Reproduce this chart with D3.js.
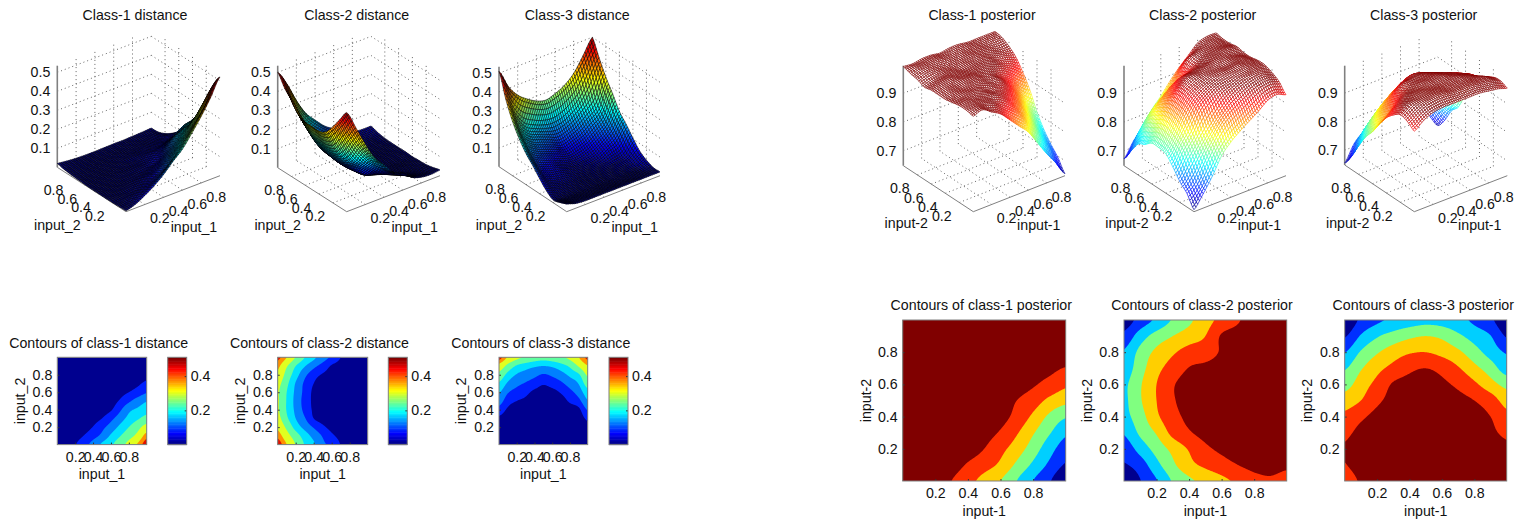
<!DOCTYPE html>
<html>
<head>
<meta charset="utf-8">
<script src="https://cdn.jsdelivr.net/npm/d3@7"></script>
<style>
  html, body { margin: 0; padding: 0; background: white; }
  svg { display: block; }
  text { font-family: "Liberation Sans", Arial, sans-serif; font-size: 14.2px; fill: #111; }
</style>
</head>
<body>
<div id="chart"></div>
<script>
// Values on an 11x11 grid (input_1 and input_2 = 0, 0.1 ... 1).
// Each row is one input_2 value, from 0 upwards; each column one input_1 value.
const distance1 = [
  [.005,.02,.047,.08,.12,.17,.215,.28,.35,.43,.52],
  [.003,.012,.03,.052,.08,.115,.17,.225,.285,.35,.455],
  [.002,.008,.015,.03,.052,.085,.125,.175,.23,.29,.36],
  [.002,.005,.01,.018,.032,.05,.085,.13,.18,.22,.26],
  [.002,.004,.006,.01,.018,.028,.045,.09,.145,.172,.2],
  [.002,.004,.005,.007,.012,.02,.03,.055,.09,.125,.155],
  [.003,.004,.005,.006,.008,.012,.02,.035,.05,.07,.095],
  [.005,.004,.005,.005,.007,.01,.015,.02,.03,.042,.06],
  [.008,.006,.005,.005,.006,.008,.01,.013,.018,.025,.035],
  [.012,.009,.007,.006,.006,.007,.008,.01,.012,.016,.02],
  [.02,.014,.01,.008,.008,.009,.01,.01,.012,.014,.017]
];
const distance2 = [
  [.52,.42,.315,.225,.17,.11,.09,.048,.03,.025,.03],
  [.46,.36,.27,.195,.14,.095,.06,.035,.02,.015,.02],
  [.40,.30,.20,.14,.095,.06,.035,.02,.012,.01,.012],
  [.35,.245,.16,.105,.05,.03,.02,.012,.01,.008,.01],
  [.33,.225,.145,.085,.042,.02,.012,.01,.006,.006,.008],
  [.33,.225,.14,.08,.04,.02,.012,.01,.008,.008,.01],
  [.33,.23,.145,.085,.04,.02,.012,.01,.008,.008,.01],
  [.35,.25,.155,.09,.05,.025,.015,.01,.008,.008,.01],
  [.40,.285,.19,.115,.07,.045,.03,.015,.01,.01,.012],
  [.44,.33,.23,.165,.115,.08,.045,.03,.02,.015,.018],
  [.50,.42,.315,.23,.175,.125,.09,.05,.035,.03,.03]
];
const distance3 = [
  [.04,.025,.02,.02,.02,.02,.02,.02,.02,.02,.02],
  [.025,.015,.012,.01,.01,.01,.01,.01,.012,.014,.02],
  [.015,.008,.005,.004,.004,.004,.004,.006,.008,.012,.035],
  [.04,.02,.012,.008,.007,.006,.007,.01,.014,.024,.06],
  [.08,.042,.025,.018,.012,.01,.012,.016,.025,.04,.105],
  [.125,.07,.05,.04,.025,.018,.02,.03,.058,.085,.155],
  [.165,.105,.08,.062,.04,.03,.035,.055,.085,.125,.20],
  [.22,.15,.115,.095,.075,.055,.07,.09,.125,.165,.27],
  [.29,.205,.155,.135,.115,.095,.11,.135,.175,.22,.335],
  [.385,.29,.22,.19,.17,.16,.17,.2,.245,.33,.415],
  [.51,.41,.345,.305,.275,.26,.275,.30,.345,.42,.50]
];
const posterior1 = [
  [.98,.99,.97,.95,.917,.883,.85,.80,.75,.705,.655],
  [.985,.99,.98,.97,.945,.92,.89,.84,.79,.74,.695],
  [.985,.99,.985,.975,.97,.95,.915,.875,.825,.77,.725],
  [.98,.985,.99,.985,.97,.965,.945,.905,.855,.805,.76],
  [.975,.985,.985,.99,.985,.97,.965,.935,.89,.84,.805],
  [.975,.985,.985,.99,.99,.98,.97,.95,.925,.888,.865],
  [.975,.985,.99,.985,.985,.985,.98,.97,.955,.935,.91],
  [.97,.98,.985,.985,.98,.985,.985,.98,.965,.96,.948],
  [.98,.99,.99,.985,.985,.985,.99,.985,.98,.97,.97],
  [.985,.995,.995,.995,.99,.99,.99,.99,.985,.985,.985],
  [.993,.99,.995,.995,.99,.995,.995,.99,.99,.99,.99]
];
const posterior2 = [
  [.655,.698,.747,.805,.84,.866,.888,.91,.935,.943,.93],
  [.695,.725,.785,.84,.885,.91,.93,.95,.965,.97,.96],
  [.72,.77,.82,.865,.905,.94,.96,.975,.985,.985,.975],
  [.755,.81,.855,.915,.945,.965,.975,.985,.99,.99,.985],
  [.785,.83,.89,.935,.96,.975,.985,.99,.995,.99,.985],
  [.79,.845,.90,.945,.965,.98,.985,.985,.99,.99,.98],
  [.79,.845,.90,.945,.97,.975,.985,.99,.99,.985,.98],
  [.77,.83,.885,.92,.952,.96,.97,.985,.99,.99,.985],
  [.755,.815,.862,.893,.92,.93,.955,.975,.985,.985,.98],
  [.715,.775,.82,.85,.875,.90,.955,.97,.98,.985,.98],
  [.672,.72,.76,.805,.84,.88,.915,.945,.975,.985,.985]
];
const posterior3 = [
  [.93,.955,.97,.975,.975,.975,.975,.975,.97,.965,.955],
  [.948,.97,.985,.99,.99,.985,.985,.985,.98,.975,.965],
  [.955,.98,.985,.99,.99,.985,.985,.985,.98,.975,.96],
  [.938,.965,.98,.985,.985,.985,.985,.985,.975,.96,.94],
  [.912,.94,.965,.975,.985,.985,.985,.975,.965,.95,.915],
  [.875,.90,.94,.965,.975,.98,.975,.965,.95,.925,.88],
  [.83,.875,.915,.955,.965,.97,.96,.94,.91,.87,.835],
  [.795,.845,.885,.915,.94,.95,.935,.905,.865,.825,.775],
  [.748,.805,.845,.875,.895,.90,.885,.86,.82,.78,.745],
  [.695,.755,.795,.82,.84,.85,.84,.81,.78,.752,.695],
  [.655,.71,.74,.76,.775,.785,.78,.765,.74,.71,.66]
];

// Contour levels and the flat colour of each band
const distanceLevels = [.05, .1, .16, .23, .32, .42, .48];
const distanceBands = ["#00008f", "#0020ff", "#0080ff", "#00e0ff", "#60ffa0", "#e0ff20", "#ff9000", "#e01000"];
const posteriorLevels = [.70, .75, .80, .85, .90, .95];
const posteriorBands = ["#00008f", "#0030ff", "#00cfff", "#80ff80", "#ffcf00", "#ff3000", "#800000"];

const axisTicks = [.2, .4, .6, .8];
const distanceZTicks = [.1, .2, .3, .4, .5];
const posteriorZTicks = [.7, .8, .9];
const colorbarTicks = [.2, .4];
const colorbarDomain = [0, .51];

const width = 1527, height = 519;
const svg = d3.select("#chart").append("svg").attr("width", width).attr("height", height);

const fmt = d3.format(".1f");
const axisGrey = "#808080";

// jet colormap, t in 0..1
function jet(t) {
  const c = v => Math.round(255 * Math.max(0, Math.min(1, 1.5 - Math.abs(4 * t - v))));
  return `rgb(${c(3)},${c(2)},${c(1)})`;
}

// Display mesh: the read grid stays as it is, a Catmull-Rom curve through its
// nodes only makes the drawn mesh finer, like a line curve does on a line chart.
function cr(p0, p1, p2, p3, t) {
  return 0.5 * (2 * p1 + (p2 - p0) * t + (2 * p0 - 5 * p1 + 4 * p2 - p3) * t * t + (3 * p1 - p0 - 3 * p2 + p3) * t * t * t);
}
function sampleLine(a, u) {
  const n = a.length - 1;
  const i = Math.min(n - 1, Math.floor(u * n));
  const t = u * n - i;
  return cr(a[Math.max(0, i - 1)], a[i], a[i + 1], a[Math.min(n, i + 2)], t);
}
function fineGrid(grid, m) {
  const out = [];
  for (let r = 0; r < m; r++) {
    const v = r / (m - 1);
    const row = [];
    for (let c = 0; c < m; c++) {
      const u = c / (m - 1);
      row.push(sampleLine(grid.map(gr => sampleLine(gr, u)), v));
    }
    out.push(row);
  }
  return out;
}

// ---- 3D panels ----
function surfacePanel(cfg) {
  const g = svg.append("g");
  const { left, front, right } = cfg;

  // axis vectors of the oblique box, as scales
  const xDx = d3.scaleLinear().domain([0, 1]).range([0, right[0] - front[0]]);
  const xDy = d3.scaleLinear().domain([0, 1]).range([0, right[1] - front[1]]);
  const yDx = d3.scaleLinear().domain([0, 1]).range([0, left[0] - front[0]]);
  const yDy = d3.scaleLinear().domain([0, 1]).range([0, left[1] - front[1]]);
  const zPx = d3.scaleLinear().domain(cfg.zDomain).range([0, cfg.zTop - left[1]]);
  const zFloor = cfg.zDomain[0], zCeil = cfg.zDomain[1];

  const project = (x, y, z) => [
    front[0] + xDx(x) + yDx(y),
    front[1] + xDy(x) + yDy(y) + zPx(z)
  ];
  const line3 = (a, b, stroke, extra) => {
    const p = project(...a), q = project(...b);
    const l = g.append("line")
      .attr("x1", p[0]).attr("y1", p[1]).attr("x2", q[0]).attr("y2", q[1])
      .attr("stroke", stroke).attr("stroke-width", extra.w || 1);
    if (extra.dash) l.attr("stroke-dasharray", extra.dash);
  };
  const dotted = { dash: "1,3", w: 0.9 };
  const dotColor = "#555";

  // dotted grid: back walls and floor
  cfg.zTicks.forEach(z => {
    line3([0, 1, z], [1, 1, z], dotColor, dotted);
    line3([1, 1, z], [1, 0, z], dotColor, dotted);
  });
  axisTicks.forEach(t => {
    line3([t, 1, zFloor], [t, 1, zCeil], dotColor, dotted);
    line3([1, t, zFloor], [1, t, zCeil], dotColor, dotted);
    line3([t, 0, zFloor], [t, 1, zFloor], dotColor, dotted);
    line3([0, t, zFloor], [1, t, zFloor], dotColor, dotted);
  });

  // solid axes
  line3([0, 1, zFloor], [0, 1, zCeil], axisGrey, { w: 1.6 });
  line3([0, 1, zFloor], [0, 0, zFloor], axisGrey, { w: 1 });
  line3([0, 0, zFloor], [1, 0, zFloor], axisGrey, { w: 1 });

  // surface, far cells first so that the near ones cover them
  const m = 51;
  const mesh = fineGrid(cfg.values, m);
  const flat = cfg.values.flat();
  // the plateau of the posterior meshes is at the dark end of jet in the picture
  const color = d3.scaleLinear().domain([d3.min(flat), cfg.colorTop || d3.max(flat)]).range([0, 1]).clamp(true);
  const cells = [];
  for (let r = m - 2; r >= 0; r--) {
    for (let c = m - 2; c >= 0; c--) cells.push([r, c]);
  }
  g.append("g").selectAll("path")
    .data(cells)
    .join("path")
    .attr("d", ([r, c]) => {
      const pts = [[c, r], [c + 1, r], [c + 1, r + 1], [c, r + 1]]
        .map(([i, j]) => project(i / (m - 1), j / (m - 1), mesh[j][i]));
      return d3.line()(pts) + "Z";
    })
    .each(function ([r, c]) {
      const avg = (mesh[r][c] + mesh[r][c + 1] + mesh[r + 1][c] + mesh[r + 1][c + 1]) / 4;
      const col = jet(color(avg));
      const el = d3.select(this);
      if (cfg.wire) {
        el.attr("fill", "white").attr("stroke", col).attr("stroke-width", 0.65);
      } else {
        el.attr("fill", col).attr("stroke", "black").attr("stroke-width", 0.55);
      }
    });

  // tick labels and axis labels
  const addText = (x, y, s, anchor) => g.append("text")
    .attr("x", x).attr("y", y).attr("dy", ".35em")
    .attr("text-anchor", anchor || "middle").text(s);

  cfg.zTicks.forEach(z => {
    const p = project(0, 1, z);
    addText(p[0] - 7, p[1], fmt(z), "end");
  });
  axisTicks.forEach(t => {
    const px = project(t, 0, zFloor);
    addText(px[0] + 15, px[1] + 14, fmt(t));
    const py = project(0, t, zFloor);
    addText(py[0] - 17.5, py[1] + 13.5, fmt(t));
  });
  addText(left[0] + cfg.yLabelDx, cfg.labelY, cfg.yLabel);
  addText(front[0] + cfg.xLabelDx, cfg.labelY + 2, cfg.xLabel);
  addText(cfg.titleX, 15, cfg.title);
}

// ---- contour panels ----
let clipCount = 0;
function contourPanel(cfg) {
  const g = svg.append("g");
  const [x0, x1] = cfg.xRange, [y1, y0] = cfg.yRange; // y0 = bottom
  const x = d3.scaleLinear().domain([0, 1]).range([x0, x1]);
  const y = d3.scaleLinear().domain([0, 1]).range([y0, y1]);

  const clipId = "clip" + (clipCount++);
  g.append("clipPath").attr("id", clipId).append("rect")
    .attr("x", x0).attr("y", y1).attr("width", x1 - x0).attr("height", y0 - y1);

  const plot = g.append("g").attr("clip-path", `url(#${clipId})`);
  plot.append("rect")
    .attr("x", x0).attr("y", y1).attr("width", x1 - x0).attr("height", y0 - y1)
    .attr("fill", cfg.bands[0]);

  const m = 201;
  const values = fineGrid(cfg.values, m).flat();
  const contours = d3.contours().size([m, m]).thresholds(cfg.levels)(values);
  const toScreen = d3.geoTransform({
    point(px, py) {
      this.stream.point(x((px - 0.5) / (m - 1)), y((py - 0.5) / (m - 1)));
    }
  });
  const path = d3.geoPath(toScreen);
  plot.selectAll("path.band")
    .data(contours)
    .join("path")
    .attr("class", "band")
    .attr("d", path)
    .attr("fill", (d, i) => cfg.bands[i + 1]);

  // axes: short inward ticks, grey box
  const xAxis = d3.axisBottom(x).tickValues(axisTicks).tickFormat(fmt).tickSize(-2).tickSizeOuter(0).tickPadding(cfg.padX);
  const yAxis = d3.axisLeft(y).tickValues(axisTicks).tickFormat(fmt).tickSize(-2).tickSizeOuter(0).tickPadding(cfg.padY);
  const ax = g.append("g").attr("transform", `translate(0,${y0})`).call(xAxis);
  const ay = g.append("g").attr("transform", `translate(${x0},0)`).call(yAxis);
  [ax, ay].forEach(a => {
    a.attr("font-family", null).attr("font-size", null);
    a.selectAll(".tick line").attr("stroke", "#333");
    a.select(".domain").remove();
  });
  g.append("rect")
    .attr("x", x0).attr("y", y1).attr("width", x1 - x0).attr("height", y0 - y1)
    .attr("fill", "none").attr("stroke", axisGrey);

  g.append("text").attr("x", cfg.titleX).attr("y", cfg.titleY).attr("dy", ".35em")
    .attr("text-anchor", "middle").text(cfg.title);
  g.append("text").attr("x", (x0 + x1) / 2).attr("y", cfg.xLabelY).attr("dy", ".35em")
    .attr("text-anchor", "middle").text(cfg.xLabel);
  g.append("text")
    .attr("transform", `translate(${cfg.yLabelX},${(y0 + y1) / 2}) rotate(-90)`)
    .attr("dy", ".35em").attr("text-anchor", "middle").text(cfg.yLabel);

  if (cfg.colorbar) {
    const [cx0, cx1] = cfg.colorbar;
    const c = d3.scaleLinear().domain(colorbarDomain).range([y0, y1]);
    const steps = d3.range(64);
    const stepH = (y0 - y1) / 64;
    g.append("g").selectAll("rect").data(steps).join("rect")
      .attr("x", cx0).attr("width", cx1 - cx0)
      .attr("y", d => y0 - (d + 1) * stepH)
      .attr("height", stepH + 0.5)
      .attr("fill", d => jet(d / 63));
    const cAxis = d3.axisRight(c).tickValues(colorbarTicks).tickFormat(fmt).tickSize(-2).tickSizeOuter(0).tickPadding(4);
    const ac = g.append("g").attr("transform", `translate(${cx1},0)`).call(cAxis);
    ac.attr("font-family", null).attr("font-size", null);
    ac.select(".domain").remove();
    ac.selectAll(".tick line").attr("stroke", "#333");
    g.append("rect").attr("x", cx0).attr("y", y1).attr("width", cx1 - cx0).attr("height", y0 - y1)
      .attr("fill", "none").attr("stroke", axisGrey);
  }
}

// ---- layout ----
const distanceCommon = {
  zDomain: [0, .535], zTicks: distanceZTicks, wire: false,
  xLabel: "input_1", yLabel: "input_2", xLabelDx: 68, yLabelDx: 0, labelY: 224.7
};
const posteriorCommon = {
  zDomain: [.648, .996], zTicks: posteriorZTicks, wire: true, colorTop: .97,
  xLabel: "input-1", yLabel: "input-2", xLabelDx: 65.5, yLabelDx: 3, labelY: 223.5
};

surfacePanel({ ...distanceCommon, title: "Class-1 distance", titleX: 135, values: distance1,
  left: [57.3, 167.3], front: [126, 211.7], right: [220, 175.7], zTop: 65.7 });
surfacePanel({ ...distanceCommon, title: "Class-2 distance", titleX: 356.7, values: distance2,
  left: [277.7, 167.7], front: [346.7, 211.7], right: [440, 175.7], zTop: 65.7 });
surfacePanel({ ...distanceCommon, title: "Class-3 distance", titleX: 577.3, values: distance3,
  left: [499, 166.7], front: [566.7, 211.7], right: [660, 175.7], zTop: 66.7 });

surfacePanel({ ...posteriorCommon, title: "Class-1 posterior", titleX: 982, values: posterior1,
  left: [903.3, 165.7], front: [973.3, 211.7], right: [1065, 175.7], zTop: 65.7 });
surfacePanel({ ...posteriorCommon, title: "Class-2 posterior", titleX: 1202.7, values: posterior2,
  left: [1124, 165.7], front: [1194, 211.7], right: [1286, 175.7], zTop: 65.7 });
surfacePanel({ ...posteriorCommon, title: "Class-3 posterior", titleX: 1423.7, values: posterior3,
  left: [1344.7, 165], front: [1414.3, 211.7], right: [1507.3, 175.7], zTop: 65.7 });

const distanceContour = {
  levels: distanceLevels, bands: distanceBands, yRange: [357.3, 444.6], padX: 7, padY: 5,
  titleY: 342.7, xLabelY: 474, xLabel: "input_1", yLabel: "input_2"
};
const posteriorContour = {
  levels: posteriorLevels, bands: posteriorBands, yRange: [320, 481], padX: 7, padY: 5,
  titleY: 305, xLabelY: 510.7, xLabel: "input-1", yLabel: "input-2"
};

contourPanel({ ...distanceContour, title: "Contours of class-1 distance", titleX: 98.7, values: distance1,
  xRange: [57.3, 146.7], yLabelX: 20, colorbar: [167.7, 186.7] });
contourPanel({ ...distanceContour, title: "Contours of class-2 distance", titleX: 319.5, values: distance2,
  xRange: [277.7, 367.7], yLabelX: 240, colorbar: [388.3, 407.3] });
contourPanel({ ...distanceContour, title: "Contours of class-3 distance", titleX: 540.8, values: distance3,
  xRange: [499, 587.7], yLabelX: 461.5, colorbar: [609, 628] });

contourPanel({ ...posteriorContour, title: "Contours of class-1 posterior", titleX: 981.3, values: posterior1,
  xRange: [902.7, 1065.7], yLabelX: 865.7 });
contourPanel({ ...posteriorContour, title: "Contours of class-2 posterior", titleX: 1202, values: posterior2,
  xRange: [1124, 1286.7], yLabelX: 1086.7 });
contourPanel({ ...posteriorContour, title: "Contours of class-3 posterior", titleX: 1423.3, values: posterior3,
  xRange: [1344.7, 1506.7], yLabelX: 1307.3 });
</script>
</body>
</html>
